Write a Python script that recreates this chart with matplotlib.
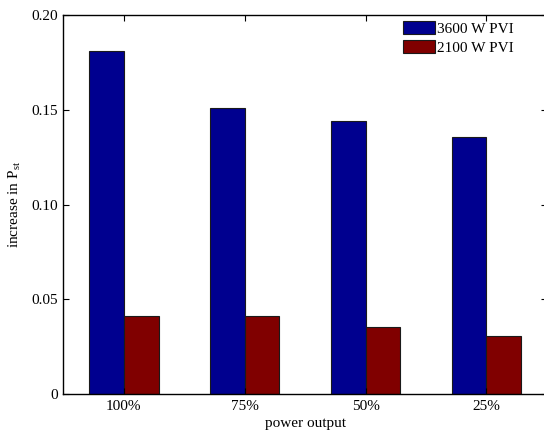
import numpy as np
import matplotlib
matplotlib.use("Agg")
import matplotlib.pyplot as plt

plt.rcParams['font.family'] = 'Liberation Serif'
plt.rcParams['mathtext.fontset'] = 'custom'
plt.rcParams['mathtext.rm'] = 'Liberation Serif'
plt.rcParams['mathtext.it'] = 'Liberation Serif:italic'

# data
categories = ['100%', '75%', '50%', '25%']
pvi_3600 = [0.181, 0.151, 0.144, 0.1355]
pvi_2100 = [0.0414, 0.0412, 0.0357, 0.0305]

fig = plt.figure(figsize=(5.44, 4.36), dpi=100)
ax = fig.add_axes([0.1164, 0.0956, 0.889, 0.870])

x = np.arange(1, len(categories) + 1)
w = 0.288
ax.bar(x - w / 2, pvi_3600, w, color='#00008f', edgecolor='#1a1a1a', linewidth=0.8, label='3600 W PVI')
ax.bar(x + w / 2, pvi_2100, w, color='#800000', edgecolor='#1a1a1a', linewidth=0.8, label='2100 W PVI')

ax.set_xlim(0.5, 4.5)
ax.set_ylim(0, 0.2)
ax.set_xticks(x)
ax.set_xticklabels(categories)
ax.set_yticks([0, 0.05, 0.10, 0.15, 0.20])
ax.set_yticklabels(['0', '0.05', '0.10', '0.15', '0.20'])
ax.tick_params(direction='in', top=True, right=True, labelsize=11, length=4, width=0.8, pad=4)
for s in ax.spines.values():
    s.set_linewidth(1.0)

ax.set_xlabel('power output', fontsize=11, labelpad=3)
ax.set_ylabel('increase in P$_{\\mathrm{st}}$', fontsize=11, labelpad=6)

ax.legend(loc='upper left', bbox_to_anchor=(402.7 / 544, 1 - 21 / 436),
          bbox_transform=fig.transFigure, frameon=False, fontsize=11,
          handlelength=2.13, handleheight=0.95, labelspacing=0.25,
          handletextpad=0.12, borderpad=0, borderaxespad=0)

fig.savefig('out.png', dpi=100)
